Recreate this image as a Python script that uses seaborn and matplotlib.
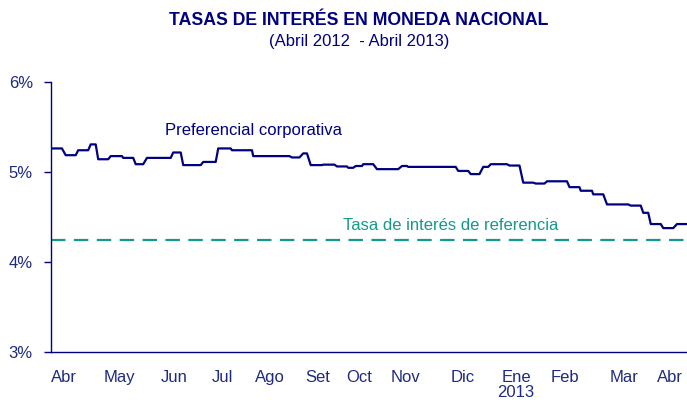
import pandas as pd
import matplotlib
matplotlib.use("Agg")
import matplotlib.pyplot as plt
import seaborn as sns
from matplotlib import font_manager

# -----------------------------
# Data (x = business-day index, Apr 2012 - Apr 2013)
# -----------------------------
inicio = [0, 6, 11, 16, 19, 24, 29, 34, 38.5, 49, 53, 61, 67, 72.5, 81, 96.5,
          101, 104, 109, 114.5, 119, 122, 125, 130.5, 140.5, 143, 163, 168,
          173, 176, 183.5, 189, 194, 198.5, 207.5, 212, 217, 222.5, 232, 237,
          240, 245, 250.5]
fin = [4.5, 10, 15, 18, 23, 28.5, 33, 37, 48, 52, 60, 66, 72, 80.5, 95.5, 99.5,
       102.5, 108.5, 113.5, 118.5, 121, 124.5, 129, 139, 142.5, 162, 167, 171.5,
       175, 182.5, 187.5, 193, 197.5, 206.5, 211.5, 216.5, 221, 231, 236, 239,
       244, 249, 254.5]
tasa = [5.265, 5.19, 5.245, 5.31, 5.145, 5.18, 5.16, 5.09, 5.16, 5.22, 5.08,
        5.115, 5.265, 5.245, 5.18, 5.165, 5.21, 5.08, 5.085, 5.065, 5.05, 5.07,
        5.09, 5.035, 5.07, 5.06, 5.015, 4.98, 5.06, 5.09, 5.075, 4.885, 4.875,
        4.90, 4.835, 4.795, 4.755, 4.643, 4.63, 4.55, 4.425, 4.38, 4.425]
tasa_referencia = 4.25

meses = ["Abr", "May", "Jun", "Jul", "Ago", "Set", "Oct", "Nov", "Dic",
         "Ene\n2013", "Feb", "Mar", "Abr"]
pos_meses = [5.3, 27.3, 49.3, 68.9, 87.7, 106.9, 123.3, 142.1, 164.9,
             186.1, 205.7, 229.3, 247.7]

# each level drawn from its first to its last day
x, y = [], []
for a, b, t in zip(inicio, fin, tasa):
    x += [a, b]
    y += [t, t]
df = pd.DataFrame({"dia": x, "tasa": y})

NAVY = "#000080"
LABEL = "#1f2a80"
TEAL = "#14998c"

sns.set_style("white")
names = {f.name for f in font_manager.fontManager.ttflist}
narrow = "Liberation Sans Narrow" if "Liberation Sans Narrow" in names else "Liberation Sans"
plt.rcParams["font.family"] = ["Liberation Sans", "DejaVu Sans"]

fig = plt.figure(figsize=(6.87, 4.03), dpi=100)
ax = fig.add_axes([0.0738, 0.1258, 0.9262, 0.670])

sns.lineplot(data=df, x="dia", y="tasa", color=NAVY, linewidth=1.6, ax=ax)
ax.axhline(tasa_referencia, color=TEAL, linewidth=1.6, dashes=(6.5, 3.8))

ax.set_xlim(0, 254.5)
ax.set_ylim(3, 6)
ax.set_yticks([3, 4, 5, 6])
ax.set_yticklabels(["3%", "4%", "5%", "6%"])
ax.set_xticks(pos_meses)
ax.set_xticklabels(meses, linespacing=1.0)
ax.set_xlabel("")
ax.set_ylabel("")

for s in ["top", "right"]:
    ax.spines[s].set_visible(False)
for s in ["left", "bottom"]:
    ax.spines[s].set_color(NAVY)
    ax.spines[s].set_linewidth(1.0)

ax.tick_params(axis="y", length=4.8, width=1.0, color=NAVY, direction="out",
               pad=8, labelcolor=LABEL, left=True)
ax.tick_params(axis="x", length=0, pad=13, labelcolor=LABEL)
for lab in ax.get_xticklabels() + ax.get_yticklabels():
    lab.set_fontfamily(narrow)
    lab.set_fontsize(12)

ax.text(45.7, 5.467, "Preferencial corporativa", color=NAVY, fontsize=12,
        va="center", ha="left")
ax.text(117, 4.41, "Tasa de interés de referencia", color=TEAL, fontsize=12,
        va="center", ha="left")

fig.text(0.5226, 0.950, "TASAS DE INTERÉS EN MONEDA NACIONAL", color=NAVY,
         fontsize=12.7, fontweight="bold", family=narrow, ha="center", va="center")
fig.text(0.5226, 0.896, "(Abril 2012  - Abril 2013)", color=NAVY,
         fontsize=12, family=narrow, ha="center", va="center")

fig.savefig("out.png", dpi=100)
